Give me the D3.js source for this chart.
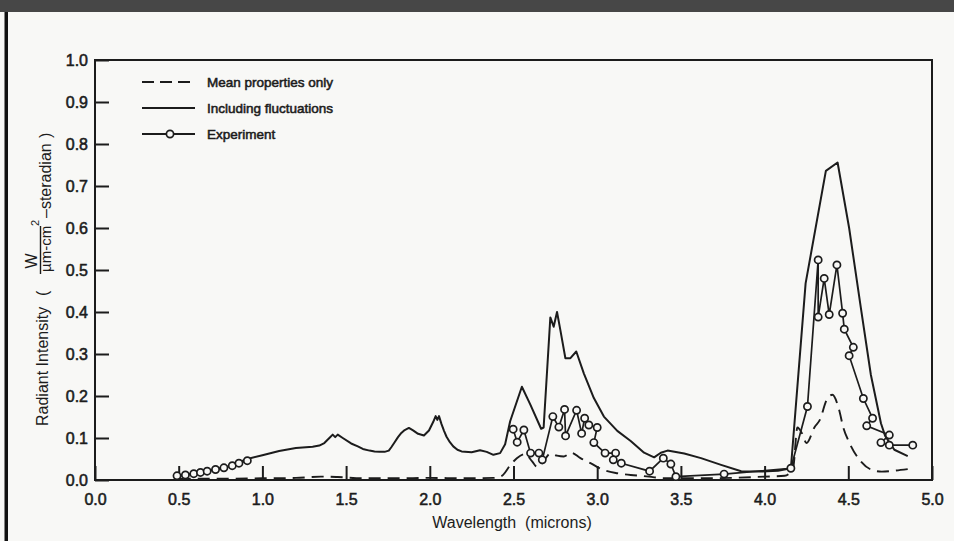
<!DOCTYPE html>
<html>
<head>
<meta charset="utf-8">
<script src="https://cdn.jsdelivr.net/npm/d3@7"></script>
<style>
  html, body { margin: 0; padding: 0; background: #f8f8f6; }
  svg { display: block; }
  text { font-family: "Liberation Sans", Arial, Helvetica, sans-serif; fill: #1c1c1c; }
</style>
</head>
<body>
<svg id="chart" width="954" height="541"></svg>
<script>
// Radiant intensity spectra, wavelength in microns
const wlFluct = [0.50,0.60,0.70,0.80,0.91,1.00,1.10,1.20,1.26,1.30,1.34,1.37,1.40,1.42,1.435,1.45,1.48,1.53,1.57,1.60,1.64,1.67,1.70,1.73,1.755,1.77,1.79,1.81,1.83,1.85,1.875,1.90,1.93,1.965,1.995,2.02,2.035,2.045,2.055,2.07,2.085,2.10,2.12,2.14,2.165,2.19,2.25,2.30,2.34,2.38,2.42,2.45,2.48,2.55,2.60,2.665,2.68,2.72,2.74,2.76,2.78,2.81,2.84,2.875,2.92,2.98,3.04,3.12,3.20,3.28,3.34,3.38,3.42,3.52,3.62,3.74,3.86,3.98,4.08,4.157,4.245,4.366,4.436,4.505,4.575,4.635,4.695,4.72,4.775,4.855];
const fluct   = [0.010,0.016,0.024,0.033,0.050,0.059,0.069,0.076,0.078,0.079,0.082,0.088,0.100,0.108,0.102,0.108,0.100,0.087,0.080,0.074,0.070,0.068,0.067,0.067,0.070,0.078,0.090,0.102,0.112,0.119,0.124,0.118,0.110,0.106,0.118,0.138,0.152,0.143,0.152,0.133,0.117,0.103,0.090,0.080,0.072,0.068,0.066,0.071,0.067,0.060,0.064,0.085,0.140,0.222,0.180,0.122,0.125,0.387,0.365,0.400,0.357,0.290,0.290,0.306,0.254,0.195,0.151,0.117,0.093,0.065,0.054,0.065,0.070,0.063,0.052,0.036,0.021,0.020,0.022,0.028,0.468,0.736,0.756,0.600,0.410,0.250,0.135,0.105,0.072,0.057];

const wlMean = [0.50,0.80,1.00,1.20,1.35,1.45,1.60,1.80,2.00,2.20,2.38,2.43,2.48,2.52,2.57,2.61,2.645,2.68,2.72,2.76,2.80,2.845,2.90,2.96,3.03,3.12,3.20,3.31,3.40,3.60,3.80,4.00,4.12,4.17,4.196,4.225,4.25,4.30,4.33,4.37,4.405,4.445,4.47,4.505,4.575,4.635,4.70,4.77,4.855];
const mean   = [0.003,0.003,0.004,0.005,0.008,0.007,0.004,0.004,0.005,0.004,0.005,0.010,0.035,0.052,0.062,0.045,0.030,0.045,0.063,0.058,0.056,0.065,0.052,0.040,0.025,0.016,0.012,0.008,0.004,0.004,0.005,0.008,0.010,0.028,0.125,0.110,0.088,0.127,0.143,0.190,0.203,0.167,0.125,0.090,0.044,0.025,0.020,0.022,0.026];

// Measured points: short-wave run and long-wave run
const wlExpShort = [0.49,0.54,0.59,0.63,0.67,0.72,0.77,0.82,0.86,0.91];
const expShort   = [0.010,0.012,0.015,0.018,0.021,0.025,0.029,0.034,0.040,0.046];
const wlExpLong = [2.498,2.522,2.562,2.602,2.652,2.672,2.735,2.771,2.805,2.811,2.877,2.907,2.925,2.950,3.000,2.980,3.047,3.110,3.096,3.144,3.313,3.395,3.440,3.470,3.758,4.157,4.256,4.320,4.320,4.356,4.386,4.432,4.466,4.476,4.530,4.505,4.590,4.645,4.610,4.745,4.695,4.745,4.885];
const expLong   = [0.121,0.090,0.119,0.064,0.064,0.048,0.151,0.126,0.168,0.105,0.166,0.111,0.147,0.131,0.125,0.089,0.064,0.064,0.048,0.040,0.021,0.052,0.038,0.008,0.014,0.028,0.175,0.524,0.388,0.480,0.394,0.512,0.397,0.359,0.316,0.296,0.194,0.147,0.129,0.107,0.089,0.083,0.083];

const xTicks = [0,0.5,1,1.5,2,2.5,3,3.5,4,4.5,5];
const yTicks = [0,0.1,0.2,0.3,0.4,0.5,0.6,0.7,0.8,0.9,1.0];
const legendLabels = ["Mean properties only", "Including fluctuations", "Experiment"];

const ink = "#1c1c1c";
const paper = "#f8f8f6";
const svg = d3.select("#chart");

// scanned-page framing
svg.append("rect").attr("x", 0).attr("y", 0).attr("width", 954).attr("height", 541).attr("fill", paper);
svg.append("rect").attr("x", 0).attr("y", 0).attr("width", 954).attr("height", 12).attr("fill", "#474747");
svg.append("rect").attr("x", 4.5).attr("y", 12).attr("width", 3.5).attr("height", 529).attr("fill", "#111");

const x = d3.scaleLinear().domain([0, 5]).range([95, 932]);
const y = d3.scaleLinear().domain([0, 1]).range([480, 60]);

// axes with inward ticks
const gx = svg.append("g").attr("transform", `translate(0,${y(0)})`)
  .call(d3.axisBottom(x).tickValues(xTicks).tickFormat(d3.format(".1f")).tickSizeInner(-14).tickSizeOuter(0).tickPadding(13.5));
const gy = svg.append("g").attr("transform", `translate(${x(0)},0)`)
  .call(d3.axisLeft(y).tickValues(yTicks).tickFormat(d3.format(".1f")).tickSizeInner(-14).tickSizeOuter(0).tickPadding(7));
[gx, gy].forEach(g => {
  g.select(".domain").remove();
  g.selectAll(".tick line").attr("stroke", ink).attr("stroke-width", 2);
  g.selectAll(".tick text").attr("font-size", 16).attr("fill", ink)
    .attr("stroke", ink).attr("stroke-width", 0.55)
    .style("font-family", '"Liberation Sans", Arial, sans-serif');
});

// plot frame
svg.append("rect").attr("x", x(0)).attr("y", y(1)).attr("width", x(5) - x(0)).attr("height", y(0) - y(1))
  .attr("fill", "none").attr("stroke", ink).attr("stroke-width", 2);

const line = d3.line().x(d => x(d[0])).y(d => y(d[1]));
const smooth = d3.line().x(d => x(d[0])).y(d => y(d[1])).curve(d3.curveMonotoneX);

const fluctPts = wlFluct.map((w, i) => [w, fluct[i]]);
const meanPts = wlMean.map((w, i) => [w, mean[i]]);
const expRuns = [wlExpShort.map((w, i) => [w, expShort[i]]), wlExpLong.map((w, i) => [w, expLong[i]])];

svg.append("path").attr("d", smooth(meanPts)).attr("fill", "none").attr("stroke", ink)
  .attr("stroke-width", 1.9).attr("stroke-dasharray", "12,7");
svg.append("path").attr("d", line(fluctPts)).attr("fill", "none").attr("stroke", ink)
  .attr("stroke-width", 2).attr("stroke-linejoin", "round");

expRuns.forEach(run => {
  svg.append("path").attr("d", line(run)).attr("fill", "none").attr("stroke", ink).attr("stroke-width", 1.7);
  svg.append("g").selectAll("circle").data(run).join("circle")
    .attr("cx", d => x(d[0])).attr("cy", d => y(d[1])).attr("r", 3.6)
    .attr("fill", paper).attr("stroke", ink).attr("stroke-width", 1.7);
});

// legend
const lg = svg.append("g");
const rowY = [82, 108, 134];
const styles = [{dash: "12,6"}, {dash: null}, {dash: null, marker: true}];
legendLabels.forEach((lab, i) => {
  const l = lg.append("line").attr("x1", 142).attr("x2", 195).attr("y1", rowY[i]).attr("y2", rowY[i])
    .attr("stroke", ink).attr("stroke-width", 2);
  if (styles[i].dash) l.attr("stroke-dasharray", styles[i].dash);
  if (styles[i].marker) lg.append("circle").attr("cx", 170).attr("cy", rowY[i]).attr("r", 3.6)
    .attr("fill", paper).attr("stroke", ink).attr("stroke-width", 1.7);
  lg.append("text").attr("x", 207).attr("y", rowY[i] + 5).attr("font-size", 13.5)
    .attr("stroke", ink).attr("stroke-width", 0.55).text(lab);
});

// x axis title
svg.append("text").attr("x", 512).attr("y", 528).attr("text-anchor", "middle").attr("font-size", 16)
  .style("white-space", "pre").attr("xml:space", "preserve").text("Wavelength  (microns)");

// y axis title with fractional unit, rotated
const yl = svg.append("g").attr("transform", "rotate(-90)").attr("font-size", 16);
yl.append("text").attr("x", -426).attr("y", 48).text("Radiant Intensity");
yl.append("text").attr("x", -296).attr("y", 48).text("(");
yl.append("text").attr("x", -261).attr("y", 37).attr("text-anchor", "middle").text("W");
yl.append("line").attr("x1", -274).attr("x2", -226).attr("y1", 40.5).attr("y2", 40.5).attr("stroke", ink).attr("stroke-width", 1.4);
yl.append("text").attr("x", -272).attr("y", 51).attr("font-size", 15).text("µm-cm");
yl.append("text").attr("x", -226).attr("y", 39).attr("font-size", 11).text("2");
yl.append("text").attr("x", -218).attr("y", 51).text("–steradian");
yl.append("text").attr("x", -138).attr("y", 51).text(")");
</script>
</body>
</html>
